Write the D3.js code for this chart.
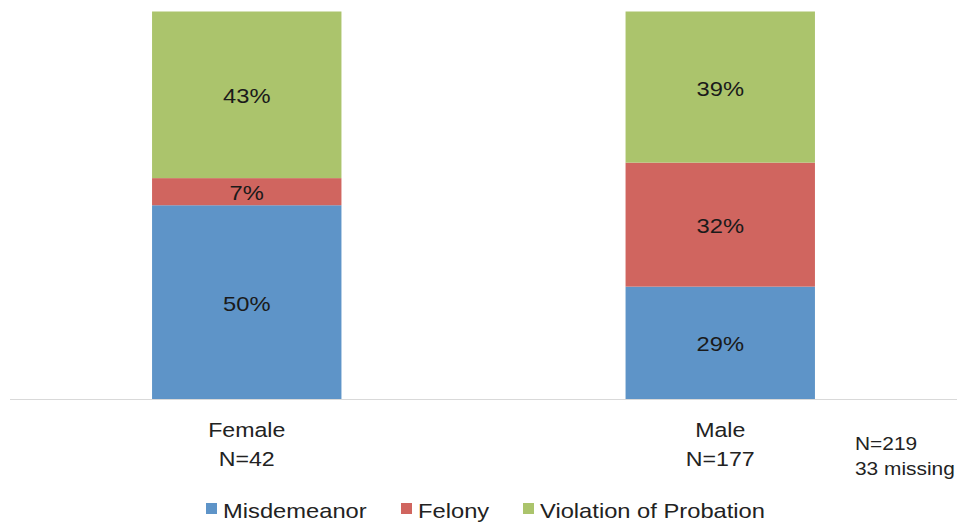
<!DOCTYPE html>
<html>
<head>
<meta charset="utf-8">
<script src="https://cdn.jsdelivr.net/npm/d3@7/dist/d3.min.js"></script>
<style>
  body { margin: 0; background: #fff; }
  svg text { font-family: "Liberation Sans", Arial, sans-serif; }
</style>
</head>
<body>
<script>
// chart data
var categories = ["Female", "Male"];
var categoryN = ["N=42", "N=177"];
var seriesNames = ["Misdemeanor", "Felony", "Violation of Probation"];
var misdemeanor = [50, 29];
var felony = [7, 32];
var violation = [43, 39];
var noteLines = ["N=219", "33 missing"];

var colors = ["#5e94c8", "#d0655f", "#abc46c"];
var stretch = 1.13; // the original text is a bit wider than it is tall

var svgWidth = 961, svgHeight = 522;
var svg = d3.select("body").append("svg")
  .attr("width", svgWidth)
  .attr("height", svgHeight);

var x = d3.scaleBand()
  .domain(categories)
  .range([10, 957])
  .paddingInner(0.6)
  .paddingOuter(0.3);

var y = d3.scaleLinear()
  .domain([0, 100])
  .range([399, 11.5]);

function place(px, py) {
  return "translate(" + px + "," + py + ") scale(" + stretch + ",1)";
}

// build stacked rows
var rows = categories.map(function(c, i) {
  return { cat: c, Misdemeanor: misdemeanor[i], Felony: felony[i], "Violation of Probation": violation[i] };
});
var stacked = d3.stack().keys(seriesNames)(rows);

var layers = svg.selectAll("g.layer")
  .data(stacked)
  .enter().append("g")
  .attr("class", "layer")
  .attr("fill", function(d, i) { return colors[i]; });

layers.selectAll("rect")
  .data(function(d) { return d; })
  .enter().append("rect")
  .attr("x", function(d) { return x(d.data.cat); })
  .attr("y", function(d) { return y(d[1]); })
  .attr("width", x.bandwidth())
  .attr("height", function(d) { return y(d[0]) - y(d[1]); });

// value labels
layers.selectAll("text")
  .data(function(d) { return d; })
  .enter().append("text")
  .attr("transform", function(d) {
    return place(x(d.data.cat) + x.bandwidth() / 2, (y(d[0]) + y(d[1])) / 2 + 1);
  })
  .attr("dy", "0.36em")
  .attr("text-anchor", "middle")
  .attr("fill", "#1a1a1a")
  .style("font-size", "21px")
  .text(function(d) { return (d[1] - d[0]) + "%"; });

// baseline
svg.append("line")
  .attr("x1", 10).attr("x2", 957)
  .attr("y1", y(0) + 0.5).attr("y2", y(0) + 0.5)
  .attr("stroke", "#d9d9d9")
  .attr("stroke-width", 1);

// category labels
categories.forEach(function(c, i) {
  var cx = x(c) + x.bandwidth() / 2;
  [c, categoryN[i]].forEach(function(line, j) {
    svg.append("text")
      .attr("transform", place(cx, 437 + j * 29))
      .attr("text-anchor", "middle")
      .attr("fill", "#222")
      .style("font-size", "20.5px")
      .text(line);
  });
});

// note on the right
svg.selectAll("text.note")
  .data(noteLines)
  .enter().append("text")
  .attr("class", "note")
  .attr("transform", function(d, i) { return place(855, 450 + i * 25); })
  .attr("fill", "#222")
  .style("font-size", "18.5px")
  .text(function(d) { return d; });

// legend
var legendX = [206, 401, 523];
var legend = svg.selectAll("g.legend")
  .data(seriesNames)
  .enter().append("g")
  .attr("class", "legend")
  .attr("transform", function(d, i) { return "translate(" + legendX[i] + ",503)"; });

legend.append("rect")
  .attr("width", 11)
  .attr("height", 11)
  .attr("fill", function(d, i) { return colors[i]; });

legend.append("text")
  .attr("transform", place(17, 15))
  .attr("fill", "#222")
  .style("font-size", "21px")
  .text(function(d) { return d; });
</script>
</body>
</html>
